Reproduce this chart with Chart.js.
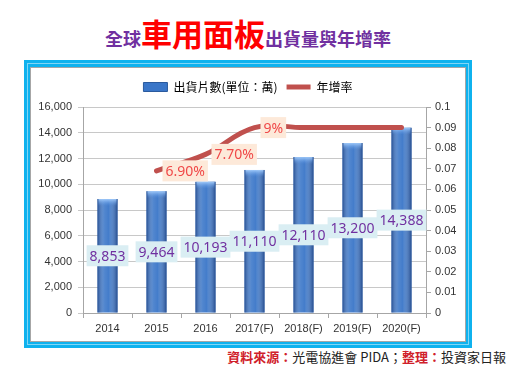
<!DOCTYPE html>
<html>
<head>
<meta charset="utf-8">
<script src="https://cdn.jsdelivr.net/npm/chart.js@4/dist/chart.umd.min.js"></script>
<style>
    body { margin: 0; width: 522px; height: 385px; background: #fff; position: relative; overflow: hidden; font-family: "Noto Sans CJK TC", "Noto Sans", sans-serif; }
    #title { position: absolute; left: 0; width: 496px; top: 13px; text-align: center; font-weight: bold; color: #7030a0; font-size: 18px; line-height: 40px; white-space: nowrap; }
    #title .big { color: #ff0000; font-size: 31px; }
    #frame { position: absolute; left: 24px; top: 60px; width: 448px; height: 288px; background: #0fb2ee; }
    #frame .stripe { position: absolute; left: 3px; top: 3px; right: 3px; bottom: 3px; border: 1px solid #7fd6f7; }
    #inner { position: absolute; left: 6px; top: 7px; width: 434px; height: 273px; background: #fff; border: 1px solid #a6a6a6; }
    #source { position: absolute; right: 16px; top: 347px; font-size: 13px; color: #222; white-space: nowrap; }
    #source b { color: #d0202a; }
</style>
</head>
<body>
<div id="title">全球<span class="big">車用面板</span>出貨量與年增率</div>
<div id="frame">
    <div class="stripe"></div>
    <div id="inner"><canvas id="chart" width="434" height="273"></canvas></div>
</div>
<div id="source"><b>資料來源：</b>光電協進會 PIDA；<b>整理：</b>投資家日報</div>

<script>
// --- Data ---
const years = ['2014', '2015', '2016', '2017(F)', '2018(F)', '2019(F)', '2020(F)'];
const shipments = [8853, 9464, 10193, 11110, 12110, 13200, 14388];
const growth = [null, 0.069, 0.077, 0.09, 0.09, 0.09, 0.09];
const growthLabels = [null, '6.90%', '7.70%', '9%', null, null, null];

const tickFont = { family: '"Liberation Sans", sans-serif', size: 11 };

// --- Plugins ---

// extra room under the legend
const legendGap = {
    id: 'legendGap',
    beforeInit(chart) {
        const fit = chart.legend.fit;
        chart.legend.fit = function () {
            fit.call(this);
            this.height += 4;
        };
    }
};

// gives the bars a rounded, shiny look
const barShade = {
    id: 'barShade',
    afterDatasetDraw(chart, args) {
        if (args.index !== 0) return;
        const ctx = chart.ctx;
        chart.getDatasetMeta(0).data.forEach(bar => {
            const left = bar.x - bar.width / 2;
            const w = bar.width;
            const h = bar.base - bar.y;
            const g = ctx.createLinearGradient(left, 0, left + w, 0);
            g.addColorStop(0, 'rgba(20,50,110,0.6)');
            g.addColorStop(0.35, 'rgba(255,255,255,0.12)');
            g.addColorStop(0.55, 'rgba(255,255,255,0.05)');
            g.addColorStop(1, 'rgba(20,50,110,0.65)');
            ctx.save();
            ctx.fillStyle = g;
            ctx.fillRect(left, bar.y, w, h);
            // top cap
            const cap = ctx.createLinearGradient(0, bar.y, 0, bar.y + 7);
            cap.addColorStop(0, 'rgba(170,210,255,0.9)');
            cap.addColorStop(1, 'rgba(90,150,230,0)');
            ctx.fillStyle = cap;
            ctx.fillRect(left + 1, bar.y, w - 2, 7);
            ctx.restore();
        });
    }
};

function boxedText(ctx, text, x, y, bg, color, align) {
    ctx.font = '14px "Noto Sans", sans-serif';
    const w = ctx.measureText(text).width + 6;
    const h = 21;
    const left = align === 'left' ? x : x - w / 2;
    ctx.fillStyle = bg;
    ctx.fillRect(left, y - h / 2, w, h);
    ctx.fillStyle = color;
    ctx.textAlign = 'left';
    ctx.textBaseline = 'middle';
    ctx.fillText(text, left + 3, y + 1);
}

const valueLabels = {
    id: 'valueLabels',
    afterDatasetsDraw(chart) {
        const ctx = chart.ctx;
        ctx.save();
        chart.getDatasetMeta(0).data.forEach((bar, i) => {
            const mid = (bar.y + bar.base) / 2;
            boxedText(ctx, shipments[i].toLocaleString('en-US'), bar.x, mid, '#daeef3', '#7030a0', 'center');
        });
        chart.getDatasetMeta(1).data.forEach((pt, i) => {
            if (!growthLabels[i]) return;
            boxedText(ctx, growthLabels[i], pt.x + 6, pt.y, '#fde9d9', '#f04848', 'left');
        });
        ctx.restore();
    }
};

// --- Chart ---
const ctx = document.getElementById('chart').getContext('2d');
new Chart(ctx, {
    data: {
        labels: years,
        datasets: [
            {
                type: 'bar',
                label: '出貨片數(單位：萬)',
                data: shipments,
                backgroundColor: '#3a76c8',
                borderWidth: 0,
                barPercentage: 0.41,
                categoryPercentage: 1,
                yAxisID: 'y',
                order: 2
            },
            {
                type: 'line',
                label: '年增率',
                data: growth,
                borderColor: '#c0504d',
                backgroundColor: '#c0504d',
                borderWidth: 5,
                borderCapStyle: 'round',
                tension: 0.4,
                pointRadius: 0,
                yAxisID: 'y1',
                order: 1
            }
        ]
    },
    options: {
        responsive: false,
        animation: false,
        layout: { padding: { top: 4 } },
        plugins: {
            tooltip: { enabled: false },
            legend: {
                position: 'top',
                labels: {
                    usePointStyle: true,
                    pointStyleWidth: 24,
                    boxHeight: 9,
                    padding: 9,
                    color: '#404040',
                    font: { family: '"Noto Sans CJK TC", sans-serif', size: 12 },
                    generateLabels(chart) {
                        return [
                            { text: '出貨片數(單位：萬)', fillStyle: '#3a76c8', strokeStyle: '#2a5a9e', lineWidth: 1, pointStyle: 'rect', datasetIndex: 0 },
                            { text: '年增率', fillStyle: '#c0504d', strokeStyle: '#c0504d', lineWidth: 5, pointStyle: 'line', datasetIndex: 1 }
                        ];
                    }
                }
            }
        },
        scales: {
            x: {
                grid: { drawOnChartArea: false, offset: true, tickLength: 5, color: '#a6a6a6' },
                border: { color: '#a6a6a6' },
                ticks: { color: '#333', font: tickFont, padding: 4 },
                afterFit: s => { s.height = 28; }
            },
            y: {
                position: 'left',
                min: 0, max: 16000,
                grid: { color: '#c8c8c8', tickLength: 5 },
                border: { color: '#a6a6a6' },
                ticks: { stepSize: 2000, color: '#333', font: tickFont, padding: 6,
                    callback: v => v.toLocaleString('en-US') },
                afterFit: s => { s.width = 52; }
            },
            y1: {
                position: 'right',
                min: 0, max: 0.1,
                grid: { drawOnChartArea: false, tickLength: 5, color: '#a6a6a6' },
                border: { color: '#a6a6a6' },
                ticks: { stepSize: 0.01, color: '#333', font: tickFont, padding: 4,
                    callback: v => +v.toFixed(2) },
                afterFit: s => { s.width = 39; }
            }
        }
    },
    plugins: [legendGap, barShade, valueLabels]
});
</script>
</body>
</html>
